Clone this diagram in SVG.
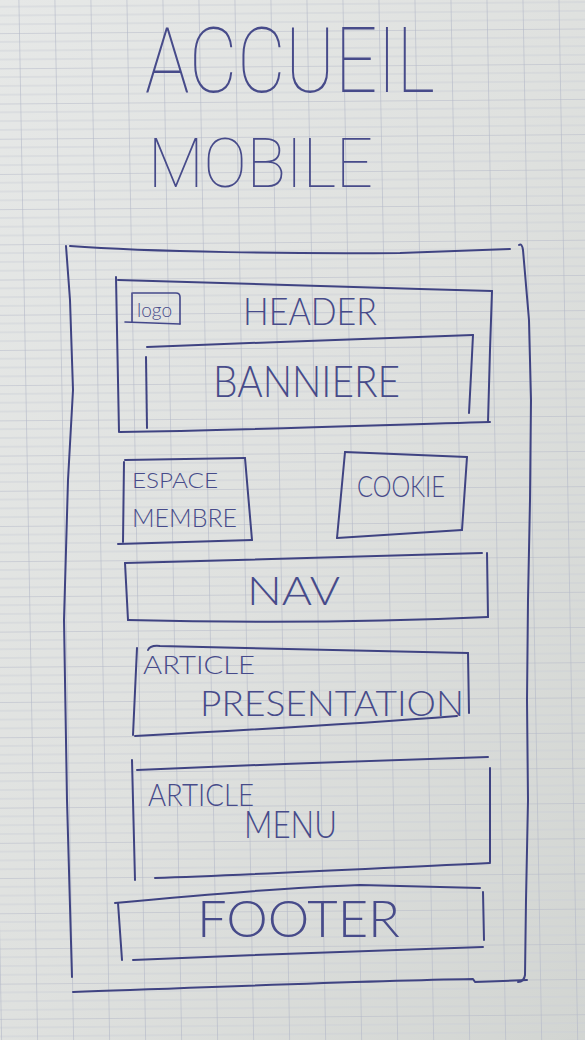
<svg xmlns="http://www.w3.org/2000/svg" width="585" height="1040" viewBox="0 0 585 1040">
  <defs>
    <linearGradient id="paper" x1="0" y1="0" x2="1" y2="1">
      <stop offset="0" stop-color="#e6e8e7"/>
      <stop offset="0.5" stop-color="#dfe1df"/>
      <stop offset="1" stop-color="#d2d5d2"/>
    </linearGradient>
    <!-- squared paper: major cells with fine horizontal ruling -->
    <pattern id="grid" width="36" height="35.2" patternUnits="userSpaceOnUse"
             patternTransform="matrix(1 -0.008 0.018 1 19 33)">
      <line x1="0" y1="8.8" x2="36" y2="8.8" class="minor"/>
      <line x1="0" y1="17.6" x2="36" y2="17.6" class="minor"/>
      <line x1="0" y1="26.4" x2="36" y2="26.4" class="minor"/>
      <line x1="0" y1="0" x2="36" y2="0" class="major"/>
      <line x1="0" y1="0" x2="0" y2="35.2" class="major"/>
    </pattern>
    <style>
      .minor { stroke: #cbcfd6; stroke-width: 0.8; }
      .major { stroke: #b3b8c8; stroke-width: 1.2; }
      .ink { fill: none; stroke: #3f4382; stroke-width: 2; stroke-linecap: round; stroke-linejoin: round; }
      .ink-thin { fill: none; stroke: #44488a; stroke-width: 1.6; stroke-linecap: round; stroke-linejoin: round; }
      .hand { font-family: Lato, Roboto, "DejaVu Sans", sans-serif; font-weight: 300; fill: #474b8a; }
      .hand-big { font-family: Roboto, Lato, "DejaVu Sans", sans-serif; font-weight: 100; fill: #474b8a; }
    </style>
  </defs>

  <!-- paper -->
  <rect width="585" height="1040" fill="url(#paper)"/>
  <rect width="585" height="1040" fill="url(#grid)"/>

  <!-- page title -->
  <g id="title">
    <text class="hand-big" x="145" y="92" font-size="90" textLength="290" lengthAdjust="spacingAndGlyphs">ACCUEIL</text>
    <text class="hand-big" x="148" y="187" font-size="68" textLength="225" lengthAdjust="spacingAndGlyphs">MOBILE</text>
  </g>

  <!-- phone screen frame -->
  <g id="frame">
    <path class="ink" d="M70,246 C150,252 300,254 400,253 L510,249"/>
    <path class="ink" d="M66,246 L70,300 L73,390 L68,480 L64,620 L67,800 L72,977"/>
    <path class="ink" d="M519,245 Q522,243 523,250 L529,320 L531,400 L530,500 L528,600 L527,700 L528,800 L526,900 L525,975 Q524,982 518,982"/>
    <path class="ink" d="M73,992 C200,988 350,981 473,979 L475,982 L527,980"/>
  </g>

  <g id="header">
    <path class="ink" d="M116,277 L117,330 L119,432"/>
    <path class="ink" d="M118,280 C200,282 300,286 420,289 L492,291"/>
    <path class="ink" d="M492,291 L490,350 L488,422"/>
    <path class="ink" d="M120,432 C250,430 380,425 490,422"/>
    <text class="hand" x="243" y="325" font-size="37" textLength="134" lengthAdjust="spacingAndGlyphs">HEADER</text>
  </g>

  <g id="logo">
    <path class="ink-thin" d="M132,293 L132,322"/>
    <path class="ink-thin" d="M133,293 L176,293 Q180,293 180,297 L180,324"/>
    <path class="ink-thin" d="M125,322 L180,324"/>
    <text class="hand" x="137" y="317" font-size="20" textLength="35" lengthAdjust="spacingAndGlyphs">logo</text>
  </g>

  <g id="banniere">
    <path class="ink" d="M146,357 L147,428"/>
    <path class="ink" d="M147,347 C250,343 380,338 473,335"/>
    <path class="ink" d="M473,335 L471,375 L469,413"/>
    <text class="hand" x="213" y="397" font-size="44" textLength="187" lengthAdjust="spacingAndGlyphs">BANNIERE</text>
  </g>

  <g id="espace-membre">
    <path class="ink" d="M124,462 L123,542"/>
    <path class="ink" d="M125,460 L245,458"/>
    <path class="ink" d="M245,458 L252,540"/>
    <path class="ink" d="M118,544 L252,540"/>
    <text class="hand" x="132" y="488" font-size="21" textLength="86" lengthAdjust="spacingAndGlyphs">ESPACE</text>
    <text class="hand" x="132" y="527" font-size="26" textLength="105" lengthAdjust="spacingAndGlyphs">MEMBRE</text>
  </g>

  <g id="cookie">
    <path class="ink" d="M345,452 L467,457"/>
    <path class="ink" d="M345,452 L337,538"/>
    <path class="ink" d="M467,457 L462,530"/>
    <path class="ink" d="M337,538 L462,530"/>
    <text class="hand" x="357" y="497" font-size="30" textLength="88" lengthAdjust="spacingAndGlyphs">COOKIE</text>
  </g>

  <g id="nav">
    <path class="ink" d="M125,563 C250,560 380,556 482,553"/>
    <path class="ink" d="M125,563 L128,620"/>
    <path class="ink" d="M487,553 L488,617"/>
    <path class="ink" d="M128,620 C250,623 380,622 488,617"/>
    <text class="hand" x="247" y="605" font-size="39" textLength="93" lengthAdjust="spacingAndGlyphs">NAV</text>
  </g>

  <g id="article-presentation">
    <path class="ink" d="M148,650 Q150,645 160,646 L468,653"/>
    <path class="ink" d="M137,648 L133,735"/>
    <path class="ink" d="M468,653 L469,713"/>
    <path class="ink" d="M135,736 C250,730 380,722 457,716"/>
    <text class="hand" x="143" y="674" font-size="26" textLength="112" lengthAdjust="spacingAndGlyphs">ARTICLE</text>
    <text class="hand" x="200" y="716" font-size="36" textLength="264" lengthAdjust="spacingAndGlyphs">PRESENTATION</text>
  </g>

  <g id="article-menu">
    <path class="ink" d="M137,770 C250,765 380,760 488,757"/>
    <path class="ink" d="M132,760 L135,880"/>
    <path class="ink" d="M490,768 L490,862"/>
    <path class="ink" d="M155,878 C250,875 380,868 490,863"/>
    <text class="hand" x="148" y="806" font-size="32" textLength="106" lengthAdjust="spacingAndGlyphs">ARTICLE</text>
    <text class="hand" x="244" y="838" font-size="38" textLength="93" lengthAdjust="spacingAndGlyphs">MENU</text>
  </g>

  <g id="footer">
    <path class="ink" d="M115,903 C200,895 300,887 360,885 L480,888"/>
    <path class="ink" d="M118,903 L122,960"/>
    <path class="ink" d="M483,892 L484,940"/>
    <path class="ink" d="M133,960 C250,955 380,950 483,947"/>
    <text class="hand" x="197" y="937" font-size="52" textLength="203" lengthAdjust="spacingAndGlyphs">FOOTER</text>
  </g>

  <!-- no connectors in this wireframe -->
  <g id="connectors"/>
</svg>
